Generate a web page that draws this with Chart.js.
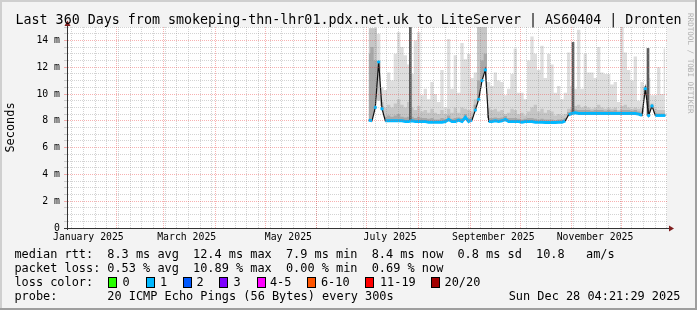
<!DOCTYPE html>
<html>
<head>
<meta charset="utf-8">
<script src="https://cdn.jsdelivr.net/npm/chart.js@4.4.1/dist/chart.umd.min.js"></script>
<style>
  html, body { margin: 0; padding: 0; background: #f3f3f3; }
  canvas { display: block; }
</style>
</head>
<body>
<canvas id="graph" width="697" height="310"></canvas>
<script>
// smokeping style 360 day graph (2 day samples)
const sampleDays = [181, 183, 185, 187, 189, 191, 193, 195, 197, 199,
  201, 203, 205, 207, 209, 211, 213, 215, 217, 219,
  221, 223, 225, 227, 229, 231, 233, 235, 237, 239,
  241, 243, 245, 247, 249, 251, 253, 255, 257, 259,
  261, 263, 265, 267, 269, 271, 273, 275, 277, 279,
  281, 283, 285, 287, 289, 291, 293, 295, 297, 299,
  301, 303, 305, 307, 309, 311, 313, 315, 317, 319,
  321, 323, 325, 327, 329, 331, 333, 335, 337, 339,
  341, 343, 345, 347, 349, 351, 353, 355, 357, 359];

// median rtt (ms)
const medianRtt = [8.05, 8.0, 9.0, 12.4, 8.9, 8.0, 8.0, 8.0, 8.0, 8.0,
  8.0, 7.95, 7.95, 8.0, 7.95, 7.95, 7.95, 7.95, 7.9, 7.9,
  7.9, 7.9, 7.9, 7.95, 8.1, 7.95, 7.95, 8.05, 7.95, 8.25,
  7.95, 8.05, 8.8, 9.6, 11.0, 11.8, 7.95, 7.95, 8.0, 7.95,
  8.0, 8.1, 7.95, 7.95, 7.95, 7.95, 7.9, 7.95, 7.95, 7.95,
  7.9, 7.9, 7.9, 7.88, 7.88, 7.88, 7.88, 7.9, 7.9, 8.0,
  8.45, 8.55, 8.6, 8.55, 8.55, 8.55, 8.55, 8.55, 8.55, 8.55,
  8.55, 8.55, 8.55, 8.55, 8.55, 8.55, 8.55, 8.55, 8.55, 8.55,
  8.55, 8.5, 8.4, 10.4, 8.4, 9.1, 8.4, 8.4, 8.4, 8.4];

// smoke bands: darkest (close to median), middle, lightest (max ping)
const smokeLow = [13.0, 13.5, 12.5, 12.4, 9.1, 8.3, 8.4, 8.3, 8.4, 8.5,
  8.3, 8.25, 8.3, 8.3, 8.2, 8.3, 8.2, 8.2, 8.15, 8.2,
  8.1, 8.1, 8.2, 8.15, 8.4, 8.15, 8.2, 8.25, 8.2, 8.5,
  8.2, 8.3, 9.2, 11.0, 12.5, 13.0, 8.2, 8.2, 8.25, 8.2,
  8.25, 8.35, 8.2, 8.2, 8.2, 8.15, 8.1, 8.15, 8.2, 8.2,
  8.15, 8.1, 8.15, 8.1, 8.1, 8.1, 8.05, 8.1, 8.1, 8.2,
  8.65, 8.8, 8.85, 8.8, 8.8, 8.8, 8.8, 8.75, 8.8, 8.8,
  8.8, 8.75, 8.8, 8.75, 8.8, 8.7, 8.8, 8.8, 8.8, 8.75,
  8.8, 8.7, 8.6, 10.4, 8.6, 9.1, 8.6, 8.55, 8.55, 8.55];

const smokeMid = [14.9, 14.9, 14.9, 9.5, 9.4, 9.0, 9.2, 9.0, 9.3, 9.6,
  9.2, 9.0, 9.4, 9.0, 8.8, 9.1, 8.7, 8.8, 8.6, 8.9,
  8.6, 8.5, 8.8, 8.5, 8.9, 8.6, 9.0, 8.6, 9.0, 8.9,
  8.8, 8.7, 9.6, 15.0, 15.0, 15.0, 9.0, 8.8, 8.9, 8.7,
  8.8, 8.5, 8.6, 8.9, 8.8, 8.5, 8.6, 8.4, 8.7, 9.0,
  9.2, 8.7, 8.9, 8.6, 8.8, 8.7, 8.4, 8.5, 8.4, 8.5,
  8.9, 9.0, 9.1, 9.2, 9.0, 9.1, 9.0, 8.9, 9.0, 9.2,
  9.0, 8.9, 9.0, 8.9, 9.0, 8.8, 9.1, 9.2, 9.0, 8.9,
  9.0, 8.9, 9.0, 10.6, 9.2, 9.3, 8.9, 8.8, 8.8, 8.8];

const smokeTop = [14.9, 14.9, 14.9, 14.5, 10.5, 10.3, 11.6, 11.0, 13.0, 14.6,
  13.5, 12.9, 12.2, 11.5, 14.0, 14.6, 9.9, 10.4, 9.6, 10.9,
  10.0, 9.4, 11.8, 9.0, 14.1, 10.4, 12.9, 10.1, 13.8, 12.6,
  13.0, 11.2, 11.6, 15.0, 15.0, 15.0, 10.9, 10.6, 11.6, 11.0,
  10.9, 9.9, 10.4, 11.5, 13.4, 10.1, 10.1, 9.6, 12.5, 14.3,
  13.0, 11.8, 13.6, 11.2, 13.0, 12.2, 10.1, 10.6, 9.6, 10.1,
  13.1, 10.6, 10.4, 14.8, 10.4, 13.0, 11.6, 11.6, 11.2, 13.5,
  11.6, 11.5, 11.5, 10.7, 10.9, 9.4, 15.0, 13.1, 11.8, 11.0,
  12.8, 9.5, 10.9, 10.5, 11.2, 9.9, 9.9, 12.0, 10.0, 13.4];

// single dark smoke streaks
const streakDays = [206, 303.6, 348.6];
const streakFrom = [8.0, 8.6, 8.4];
const streakTo = [15.0, 13.85, 13.4];

// axis: days counted from Thu Jan 02 2025 04:21:29
const monthStartDays = [29.82, 57.82, 88.82, 118.82, 149.82, 179.82, 210.82, 241.82, 271.82, 302.82, 332.82];
const monthLabelDays = [12.82, 71.82, 132.82, 193.82, 255.82, 316.82];
const monthLabels = ["January 2025", "March 2025", "May 2025", "July 2025", "September 2025", "November 2025"];
const firstSunday = 2.82;
const yLabelValues = [0, 2, 4, 6, 8, 10, 12, 14];

const legendRows = [
  ["median rtt:", "8.3 ms avg", "12.4 ms max", "7.9 ms min", "8.4 ms now", "0.8 ms sd", "10.8", "am/s"],
  ["packet loss:", "0.53 % avg", "10.89 % max", "0.00 % min", "0.69 % now"]
];
const lossLabels = ["0", "1", "2", "3", "4-5", "6-10", "11-19", "20/20"];
const lossColors = ["#26ff00", "#00b8ff", "#0059ff", "#7e00ff", "#ff00ff", "#ff5500", "#ff0000", "#a10000"];

const MONO = "'DejaVu Sans Mono', monospace";
const GRID = "rgba(140,140,140,0.38)";
const MGRID = "rgba(235,70,70,0.42)";
const ARROW = "#7f1f1f";

const xTicks = [];
for (let d = firstSunday; d <= 360; d += 7) xTicks.push({ value: d, kind: "week" });
monthStartDays.forEach(d => xTicks.push({ value: d, kind: "month" }));
monthLabelDays.forEach((d, i) => xTicks.push({ value: d, kind: "label", text: monthLabels[i] }));
xTicks.sort((a, b) => a.value - b.value);

const pts = arr => sampleDays.map((d, i) => ({ x: d, y: arr[i] }));
const isPeak = i => {
  const a = medianRtt[i - 1], b = medianRtt[i + 1], v = medianRtt[i];
  return a !== undefined && b !== undefined && Math.abs(v - a) > 0.3 && Math.abs(v - b) > 0.3;
};

const decor = {
  id: "decor",
  beforeDraw(chart) {
    const { ctx, chartArea: a } = chart;
    ctx.save();
    ctx.fillStyle = "#f3f3f3";
    ctx.fillRect(0, 0, 697, 310);
    ctx.fillStyle = "#ffffff";
    ctx.fillRect(a.left, a.top, a.right - a.left, a.bottom - a.top);
    ctx.fillStyle = "#cfcfcf";
    ctx.fillRect(0, 0, 697, 2);
    ctx.fillRect(0, 0, 2, 310);
    ctx.fillStyle = "#9e9e9e";
    ctx.fillRect(695, 0, 2, 310);
    ctx.fillRect(0, 308, 697, 2);
    ctx.restore();
  },
  afterDraw(chart) {
    const { ctx, chartArea: a } = chart;
    ctx.save();
    // axis lines drawn solid again, plus extensions and arrows
    ctx.strokeStyle = "#333";
    ctx.lineWidth = 1;
    ctx.setLineDash([]);
    ctx.beginPath();
    ctx.moveTo(a.left - 3, a.bottom + 0.5); ctx.lineTo(a.right + 5, a.bottom + 0.5);
    ctx.moveTo(a.left + 0.5, a.bottom + 2); ctx.lineTo(a.left + 0.5, a.top - 3);
    ctx.stroke();
    ctx.fillStyle = ARROW;
    ctx.beginPath();
    ctx.moveTo(a.left + 0.5, a.top - 6.5); ctx.lineTo(a.left - 2.5, a.top - 1); ctx.lineTo(a.left + 3.5, a.top - 1);
    ctx.closePath(); ctx.fill();
    ctx.beginPath();
    ctx.moveTo(a.right + 7, a.bottom + 0.5); ctx.lineTo(a.right + 2, a.bottom - 2.5); ctx.lineTo(a.right + 2, a.bottom + 3.5);
    ctx.closePath(); ctx.fill();

    // title
    ctx.fillStyle = "#000";
    ctx.textBaseline = "alphabetic";
    ctx.font = "13.33px " + MONO;
    ctx.textAlign = "center";
    ctx.fillText("Last 360 Days from smokeping-thn-lhr01.pdx.net.uk to LiteServer | AS60404 | Dronten", 348.5, 24);

    // legend
    ctx.textAlign = "left";
    ctx.font = "11.9px " + MONO;
    const cols = [14.4, 107.3, 193, 285.9, 371.7, 457.4, 536, 586];
    legendRows.forEach((row, r) => {
      row.forEach((txt, c) => ctx.fillText(txt, cols[c], 258 + r * 14));
    });
    ctx.fillText("loss color:", 14.4, 286);
    const boxX = [108.3, 145.7, 182.7, 219.3, 256.7, 307.3, 365, 430.7];
    const textX = [122.5, 159.9, 196.5, 233.5, 269.9, 320.9, 379.9, 444.5];
    lossLabels.forEach((lbl, i) => {
      ctx.fillStyle = lossColors[i];
      ctx.fillRect(Math.round(boxX[i]), 277, 8, 10);
      ctx.strokeStyle = "#000";
      ctx.strokeRect(Math.round(boxX[i]) + 0.5, 277.5, 8, 10);
      ctx.fillStyle = "#000";
      ctx.fillText(lbl, textX[i], 286);
    });
    ctx.fillText("probe:", 14.4, 300);
    ctx.fillText("20 ICMP Echo Pings (56 Bytes) every 300s", 107.3, 300);
    ctx.textAlign = "right";
    ctx.fillText("Sun Dec 28 04:21:29 2025", 680.5, 300);

    // watermark
    ctx.translate(690, 13);
    ctx.rotate(Math.PI / 2);
    ctx.textAlign = "left";
    ctx.textBaseline = "middle";
    ctx.fillStyle = "#b0b0b0";
    ctx.font = "7.6px " + MONO;
    ctx.fillText("RRDTOOL / TOBI OETIKER", 0, 0);
    ctx.restore();
  }
};

new Chart(document.getElementById("graph"), {
  type: "line",
  data: {
    datasets: [
      {
        data: pts(medianRtt), borderColor: "#00b8ff", borderWidth: 3, tension: 0,
        pointRadius: c => isPeak(c.dataIndex) ? 1.7 : 0, pointBorderWidth: 0, pointBackgroundColor: "#00b8ff",
        segment: { borderColor: c => Math.abs(c.p1.parsed.y - c.p0.parsed.y) > 0.3 ? "rgba(0,0,0,0)" : "#00b8ff" }
      },
      { data: pts(medianRtt), borderColor: "#111", borderWidth: 1.2, pointRadius: 0, tension: 0 },
      {
        type: "bar", data: streakDays.map((d, i) => ({ x: d, y: [streakFrom[i], streakTo[i]] })),
        backgroundColor: "#5c5c5c", barThickness: 2, grouped: false
      },
      { data: pts(smokeLow), stepped: "middle", borderColor: "rgba(0,0,0,0)", borderWidth: 0, pointRadius: 0, fill: 1, backgroundColor: "#a8a8a8" },
      { data: pts(smokeMid), stepped: "middle", borderColor: "rgba(0,0,0,0)", borderWidth: 0, pointRadius: 0, fill: 1, backgroundColor: "#c6c6c6" },
      { data: pts(smokeTop), stepped: "middle", borderColor: "rgba(0,0,0,0)", borderWidth: 0, pointRadius: 0, fill: 1, backgroundColor: "#dedede" }
    ]
  },
  options: {
    responsive: false, animation: false, events: [],
    layout: { padding: { left: 0, right: 30, top: 27, bottom: 0 } },
    plugins: { legend: { display: false }, tooltip: { enabled: false }, title: { display: false } },
    scales: {
      x: {
        type: "linear", min: 0, max: 360, offset: false,
        afterBuildTicks: s => { s.ticks = xTicks.map(t => ({ value: t.value })); },
        afterFit: s => { s.height = 82; s.paddingLeft = 0; s.paddingRight = 0; },
        grid: {
          z: 1, offset: false, drawTicks: false, lineWidth: 1, borderDash: [1, 1],
          color: c => { const t = xTicks[c.index]; return !t ? "rgba(0,0,0,0)" : t.kind === "month" ? MGRID : t.kind === "week" ? GRID : "rgba(0,0,0,0)"; }
        },
        border: { dash: [1, 1], color: "#333", width: 1, z: 2 },
        ticks: {
          autoSkip: false, maxRotation: 0, minRotation: 0, padding: 4, color: "#000",
          font: { family: MONO, size: 9.8 },
          callback: (v, i) => xTicks[i] && xTicks[i].kind === "label" ? xTicks[i].text : ""
        }
      },
      y: {
        min: 0, max: 15,
        afterBuildTicks: s => { const t = []; for (let v = 0; v <= 15; v += 0.5) t.push({ value: v }); s.ticks = t; },
        afterFit: s => { s.width = 67; s.paddingTop = 0; s.paddingBottom = 0; },
        grid: {
          z: 1, drawTicks: true, tickLength: 3, lineWidth: 1, borderDash: [1, 1],
          color: c => yLabelValues.includes(c.tick.value) ? MGRID : GRID,
          tickColor: c => yLabelValues.includes(c.tick.value) ? MGRID : GRID
        },
        border: { dash: [1, 1], color: "#333", width: 1, z: 2 },
        ticks: {
          autoSkip: false, padding: 4, color: "#000",
          font: { family: MONO, size: 9.8 },
          callback: v => yLabelValues.includes(v) ? (v === 0 ? "0" : v + " m") : ""
        },
        title: {
          display: true, text: "Seconds", color: "#000",
          font: { family: MONO, size: 11.9 }, padding: { top: 3.5, bottom: 0 }
        }
      }
    }
  },
  plugins: [decor]
});
</script>
</body>
</html>
